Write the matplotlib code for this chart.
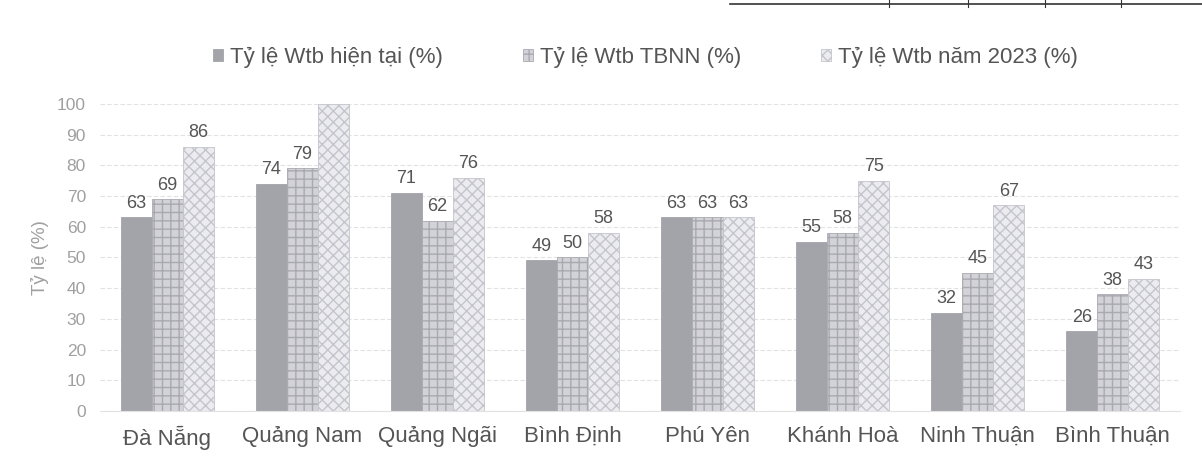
import numpy as np
import matplotlib
matplotlib.use("Agg")
import matplotlib.pyplot as plt
from matplotlib.lines import Line2D

# Data
provinces = ['Đà Nẵng', 'Quảng Nam', 'Quảng Ngãi', 'Bình Định', 'Phú Yên',
             'Khánh Hoà', 'Ninh Thuận', 'Bình Thuận']
wtb_now = [63, 74, 71, 49, 63, 55, 32, 26]
wtb_tbnn = [69, 79, 62, 50, 63, 58, 45, 38]
wtb_2023 = [86, 100, 76, 58, 63, 75, 67, 43]
series_names = ['Tỷ lệ Wtb hiện tại (%)', 'Tỷ lệ Wtb TBNN (%)', 'Tỷ lệ Wtb năm 2023 (%)']

plt.rcParams['font.family'] = ['Liberation Sans', 'DejaVu Sans']
plt.rcParams['hatch.linewidth'] = 1.0

fig = plt.figure(figsize=(12.02, 4.68), dpi=100)
ax = fig.add_axes([0.083, 0.122, 0.899, 0.656])

x = np.arange(len(provinces))
w = 0.23
styles = [
    dict(color='#a3a3aa', edgecolor='#a3a3aa', hatch=None),
    dict(color='#d2d2d8', edgecolor='#a9a9b0', hatch='++'),
    dict(color='#ececf0', edgecolor='#c4c4cc', hatch='xxx'),
]
handles = []
for i, vals in enumerate([wtb_now, wtb_tbnn, wtb_2023]):
    st = styles[i]
    bars = ax.bar(x + (i - 1) * w, vals, width=w, color=st['color'],
                  edgecolor=st['edgecolor'], hatch=st['hatch'], linewidth=0.6,
                  zorder=2)
    for b, v in zip(bars, vals):
        ax.annotate(str(v), (b.get_x() + b.get_width() / 2, v),
                    xytext=(0, 4), textcoords='offset points',
                    ha='center', va='bottom', fontsize=13, color='#555555',
                    annotation_clip=True, clip_on=True)
    handles.append(bars[0])

ax.set_xlim(-0.5, len(provinces) - 0.5)
ax.set_ylim(0, 100)
ax.set_yticks(range(0, 101, 10))
ax.set_xticks(x)
ax.set_xticklabels(provinces, fontsize=16, color='#555555')
ax.tick_params(axis='y', labelsize=12.5, labelcolor='#a0a0a0', length=0, pad=10)
ax.tick_params(axis='x', length=0, pad=11)
ax.grid(axis='y', color='#e2e2e2', linewidth=0.8, linestyle=(0, (4, 2)), zorder=0)
for s in ['top', 'right', 'left']:
    ax.spines[s].set_visible(False)
ax.spines['bottom'].set_color('#e2e2e2')
ax.set_ylabel('Tỷ lệ (%)', fontsize=13.5, color='#a0a0a0', labelpad=6)

fig.legend(handles, series_names, loc='center', bbox_to_anchor=(0.537, 0.878),
           ncol=3, frameon=False, fontsize=16, labelcolor='#555555',
           handlelength=0.45, handleheight=0.45, handletextpad=0.3, columnspacing=3.6)

# faint table border left from the scanned page above the chart
fig.add_artist(Line2D([0.607, 1.0], [0.992, 0.992], color='#333333', lw=1.2))
for xv in [0.740, 0.805, 0.869, 0.933]:
    fig.add_artist(Line2D([xv, xv], [0.985, 1.0], color='#333333', lw=0.8))

fig.savefig('out.png', dpi=100)
